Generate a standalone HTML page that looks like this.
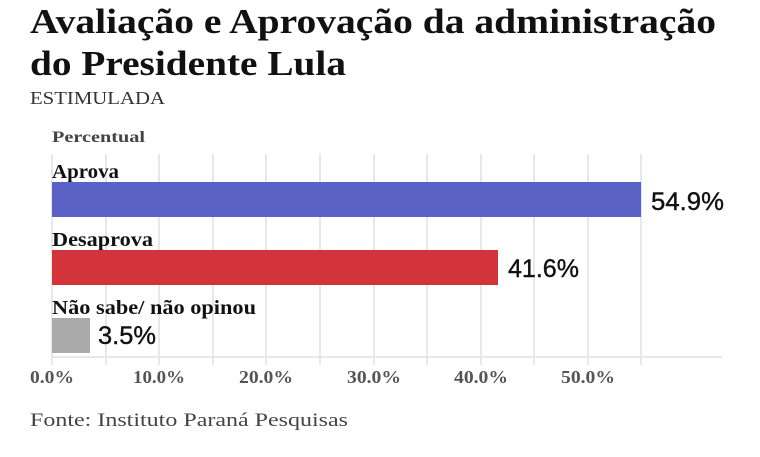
<!DOCTYPE html>
<html><head><meta charset="utf-8"><style>
body{margin:0;width:760px;height:452px;background:#fff;overflow:hidden}
</style></head><body>
<svg width="760" height="452" xmlns="http://www.w3.org/2000/svg">
<g font-family="Liberation Serif, serif">
<text x="30" y="33" font-size="35" font-weight="bold" fill="#111" textLength="686" lengthAdjust="spacingAndGlyphs">Avaliação e Aprovação da administração</text>
<text x="30" y="75" font-size="35" font-weight="bold" fill="#111" textLength="316" lengthAdjust="spacingAndGlyphs">do Presidente Lula</text>
<text x="30" y="104" font-size="18" fill="#333" textLength="135" lengthAdjust="spacingAndGlyphs">ESTIMULADA</text>
<text x="52" y="142" font-size="16" font-weight="bold" fill="#444" textLength="93" lengthAdjust="spacingAndGlyphs">Percentual</text>
<g stroke="#e8e8e8" stroke-width="2">
<line x1="52" y1="154" x2="52" y2="365"/><line x1="106" y1="154" x2="106" y2="365"/>
<line x1="159" y1="154" x2="159" y2="365"/><line x1="213" y1="154" x2="213" y2="365"/>
<line x1="266" y1="154" x2="266" y2="365"/><line x1="320" y1="154" x2="320" y2="365"/>
<line x1="374" y1="154" x2="374" y2="365"/><line x1="427" y1="154" x2="427" y2="365"/>
<line x1="481" y1="154" x2="481" y2="365"/><line x1="534" y1="154" x2="534" y2="365"/>
<line x1="588" y1="154" x2="588" y2="365"/><line x1="641" y1="154" x2="641" y2="365"/>
<line x1="52" y1="357" x2="722" y2="357"/>
</g>
<text x="52" y="178" font-size="20" font-weight="bold" fill="#111" textLength="67" lengthAdjust="spacingAndGlyphs">Aprova</text>
<rect x="52" y="182" width="589" height="35" fill="#5a62c6"/>
<text x="52" y="246" font-size="20" font-weight="bold" fill="#111" textLength="101" lengthAdjust="spacingAndGlyphs">Desaprova</text>
<rect x="52" y="250" width="446" height="35" fill="#d3333a"/>
<text x="52" y="314" font-size="20" font-weight="bold" fill="#111" textLength="204" lengthAdjust="spacingAndGlyphs">Não sabe/ não opinou</text>
<rect x="52" y="318" width="38" height="35" fill="#aaaaaa"/>
<g font-family="Liberation Sans, sans-serif" font-size="25" fill="#111" stroke="#111" stroke-width="0.4">
<text x="651" y="210" textLength="73" lengthAdjust="spacingAndGlyphs">54.9%</text>
<text x="508" y="277" textLength="71" lengthAdjust="spacingAndGlyphs">41.6%</text>
<text x="98" y="344" textLength="58" lengthAdjust="spacingAndGlyphs">3.5%</text>
</g>
<g font-size="18" font-weight="bold" fill="#555" text-anchor="middle">
<text x="52" y="383" textLength="44" lengthAdjust="spacingAndGlyphs">0.0%</text><text x="159" y="383" textLength="52" lengthAdjust="spacingAndGlyphs">10.0%</text>
<text x="266" y="383" textLength="54" lengthAdjust="spacingAndGlyphs">20.0%</text><text x="374" y="383" textLength="54" lengthAdjust="spacingAndGlyphs">30.0%</text>
<text x="481" y="383" textLength="54" lengthAdjust="spacingAndGlyphs">40.0%</text><text x="588" y="383" textLength="54" lengthAdjust="spacingAndGlyphs">50.0%</text>
</g>
<text x="30" y="426" font-size="19" fill="#444" textLength="318" lengthAdjust="spacingAndGlyphs">Fonte: Instituto Paraná Pesquisas</text>
</g>
</svg>
</body></html>
